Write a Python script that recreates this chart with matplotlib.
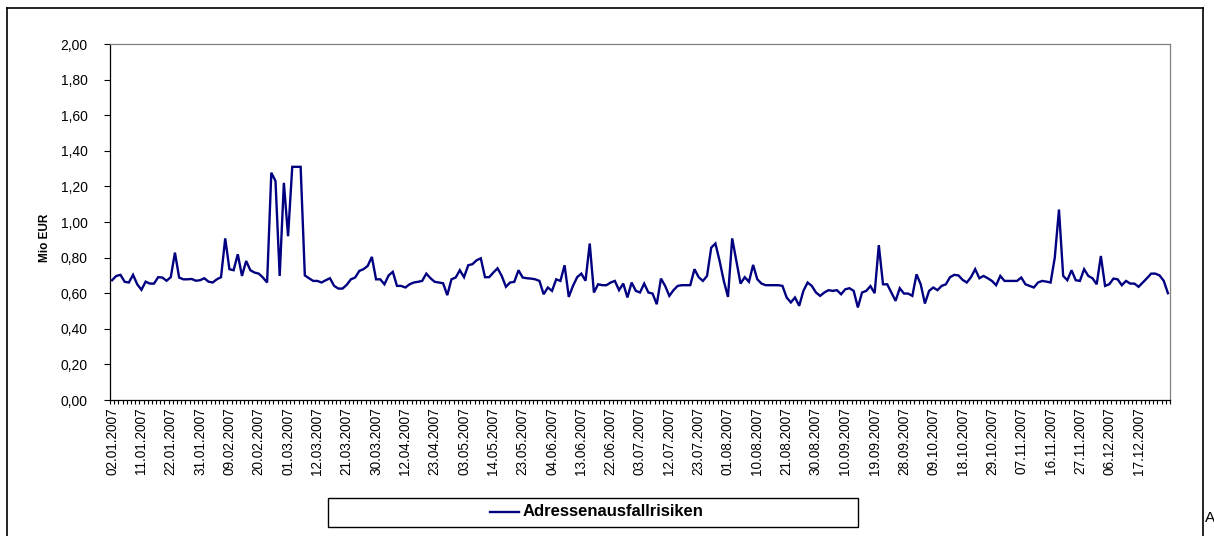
#!/usr/bin/env python3
"""
Adressenausfallrisiken 2007 - daily series, Excel style line chart.
"""

import matplotlib
matplotlib.use("Agg")
import matplotlib.pyplot as plt
from matplotlib.lines import Line2D
from matplotlib.patches import Rectangle
from matplotlib.ticker import FuncFormatter, FixedLocator


# ------------------------
# Data (Mio EUR, one value per trading day)
# ------------------------

SERIES_NAME = "Adressenausfallrisiken"
Y_LABEL = "Mio EUR"

TICK_LABELS = [
    "02.01.2007", "11.01.2007", "22.01.2007", "31.01.2007", "09.02.2007",
    "20.02.2007", "01.03.2007", "12.03.2007", "21.03.2007", "30.03.2007",
    "12.04.2007", "23.04.2007", "03.05.2007", "14.05.2007", "23.05.2007",
    "04.06.2007", "13.06.2007", "22.06.2007", "03.07.2007", "12.07.2007",
    "23.07.2007", "01.08.2007", "10.08.2007", "21.08.2007", "30.08.2007",
    "10.09.2007", "19.09.2007", "28.09.2007", "09.10.2007", "18.10.2007",
    "29.10.2007", "07.11.2007", "16.11.2007", "27.11.2007", "06.12.2007",
    "17.12.2007",
]
TICK_STEP = 7  # one label every 7 trading days

VALUES = [
    # January
    0.673, 0.697, 0.703, 0.664, 0.66, 0.703, 0.65, 0.619, 0.665, 0.654,
    0.654, 0.69, 0.688, 0.67, 0.69, 0.828, 0.688, 0.678, 0.678, 0.68,
    0.67, 0.673, 0.684,
    # February / early March
    0.665, 0.66, 0.678, 0.69, 0.908, 0.735, 0.729, 0.819, 0.697, 0.781,
    0.729, 0.716, 0.71, 0.688, 0.66, 1.277, 1.23, 0.697, 1.22, 0.92,
    1.31, 1.31, 1.31, 0.70,
    # March / April
    0.684, 0.669, 0.669, 0.66, 0.673, 0.684, 0.641, 0.626, 0.626, 0.647,
    0.678, 0.688, 0.725, 0.735, 0.753, 0.804, 0.678, 0.678, 0.65, 0.70,
    0.72,
    0.641, 0.641, 0.632, 0.65, 0.66, 0.664, 0.669, 0.71, 0.684, 0.664,
    0.66, 0.656, 0.589, 0.678, 0.688, 0.729, 0.69, 0.757, 0.763, 0.785,
    0.796, 0.69, 0.69,
    # May / June
    0.716, 0.74, 0.697, 0.636, 0.66, 0.664, 0.729, 0.688, 0.684, 0.682,
    0.678, 0.669, 0.594, 0.632, 0.613, 0.678, 0.669, 0.757, 0.579, 0.641,
    0.69, 0.71, 0.67,
    0.879, 0.604, 0.65, 0.645, 0.645, 0.66, 0.669, 0.617, 0.654, 0.576,
    0.66, 0.613, 0.604, 0.654, 0.604, 0.598, 0.538, 0.682, 0.641, 0.585,
    0.617, 0.641,
    # July / August
    0.645, 0.645, 0.645, 0.735, 0.69, 0.669, 0.697, 0.856, 0.879, 0.781,
    0.669, 0.579, 0.908, 0.781, 0.654, 0.69, 0.664, 0.759, 0.678, 0.654,
    0.645, 0.645, 0.645,
    0.645, 0.641, 0.576, 0.548, 0.576, 0.529, 0.613, 0.66, 0.641, 0.604,
    0.585, 0.604, 0.617, 0.613, 0.617, 0.594, 0.622, 0.628, 0.613, 0.52,
    0.604, 0.613, 0.64,
    # September / October
    0.60, 0.87, 0.65, 0.65, 0.604, 0.557, 0.628, 0.598, 0.598, 0.585,
    0.706, 0.65, 0.542, 0.613, 0.632, 0.617, 0.641, 0.65, 0.69, 0.703,
    0.70, 0.675,
    0.66, 0.69, 0.735, 0.684, 0.697, 0.684, 0.669, 0.645, 0.697, 0.669,
    0.669, 0.669, 0.669, 0.688, 0.65, 0.641, 0.632, 0.66, 0.669, 0.665,
    0.66, 0.80, 1.07,
    # November / December
    0.697, 0.673, 0.729, 0.673, 0.669, 0.735, 0.697, 0.684, 0.65, 0.809,
    0.641, 0.65, 0.682, 0.678, 0.645, 0.669, 0.654, 0.654, 0.636, 0.66,
    0.684, 0.71, 0.71, 0.70, 0.67, 0.60,
]

Y_MAX = 2.0
Y_STEP = 0.2

LINE_COLOR = "#000080"
FONT = ["Liberation Sans", "DejaVu Sans"]

W, H = 1214, 536


def px_x(x):
    return x / W


def px_y(y):
    return 1 - y / H


def main():
    plt.rcParams["font.family"] = FONT

    fig = plt.figure(figsize=(W / 100, H / 100), dpi=100)
    fig.patch.set_facecolor("white")

    # outer chart frame (top, left, right)
    frame_kw = dict(color="black", linewidth=1.2, transform=fig.transFigure)
    fig.add_artist(Line2D([px_x(7), px_x(1203)], [px_y(8), px_y(8)], **frame_kw))
    fig.add_artist(Line2D([px_x(7), px_x(7)], [px_y(8), px_y(536)], **frame_kw))
    fig.add_artist(Line2D([px_x(1203), px_x(1203)], [px_y(8), px_y(536)], **frame_kw))

    ax = fig.add_axes([px_x(110), px_y(400), (1170 - 110) / W, (400 - 44) / H])

    n = len(VALUES)
    xs = list(range(n))
    ax.plot(xs, VALUES, color=LINE_COLOR, linewidth=1.7, solid_joinstyle="miter")

    ax.set_xlim(-0.5, n - 0.5)
    ax.set_ylim(0, Y_MAX)

    # y axis
    yticks = [i * Y_STEP for i in range(int(round(Y_MAX / Y_STEP)) + 1)]
    ax.set_yticks(yticks)
    ax.yaxis.set_major_formatter(
        FuncFormatter(lambda v, _: f"{v:.2f}".replace(".", ","))
    )
    ax.tick_params(axis="y", direction="out", length=4, width=0.8,
                   labelsize=10, pad=12, colors="black")

    # x axis: label every TICK_STEP points, small tick at every category border
    label_pos = [i * TICK_STEP for i in range(len(TICK_LABELS))]
    ax.set_xticks(label_pos)
    ax.set_xticklabels(TICK_LABELS, rotation=90, va="top", ha="center")
    ax.xaxis.set_minor_locator(FixedLocator([i - 0.5 for i in range(n + 1)]))
    ax.tick_params(axis="x", which="major", length=0, labelsize=9.8, pad=5)
    ax.tick_params(axis="x", which="minor", direction="out", length=3, width=0.8)

    for side in ("left", "bottom"):
        ax.spines[side].set_color("black")
        ax.spines[side].set_linewidth(0.9)
    for side in ("top", "right"):
        ax.spines[side].set_color("#808080")
        ax.spines[side].set_linewidth(0.9)

    fig.text(px_x(45), px_y(238), Y_LABEL, rotation=90, ha="center", va="center",
             fontsize=8.5, fontweight="bold")

    # legend box
    fig.add_artist(Rectangle((px_x(328), px_y(527)), (858 - 328) / W, (527 - 498) / H,
                             transform=fig.transFigure, facecolor="white",
                             edgecolor="black", linewidth=1.0))
    fig.add_artist(Line2D([px_x(490), px_x(519)], [px_y(512), px_y(512)],
                          color=LINE_COLOR, linewidth=1.7, transform=fig.transFigure))
    fig.text(px_x(523), px_y(512), SERIES_NAME, ha="left", va="center",
             fontsize=12, fontweight="bold")

    # cut-off text at the right edge
    fig.text(px_x(1205), px_y(522), "A", ha="left", va="baseline", fontsize=11)

    fig.savefig("out.png", dpi=100, facecolor="white")
    plt.close(fig)


if __name__ == "__main__":
    main()
